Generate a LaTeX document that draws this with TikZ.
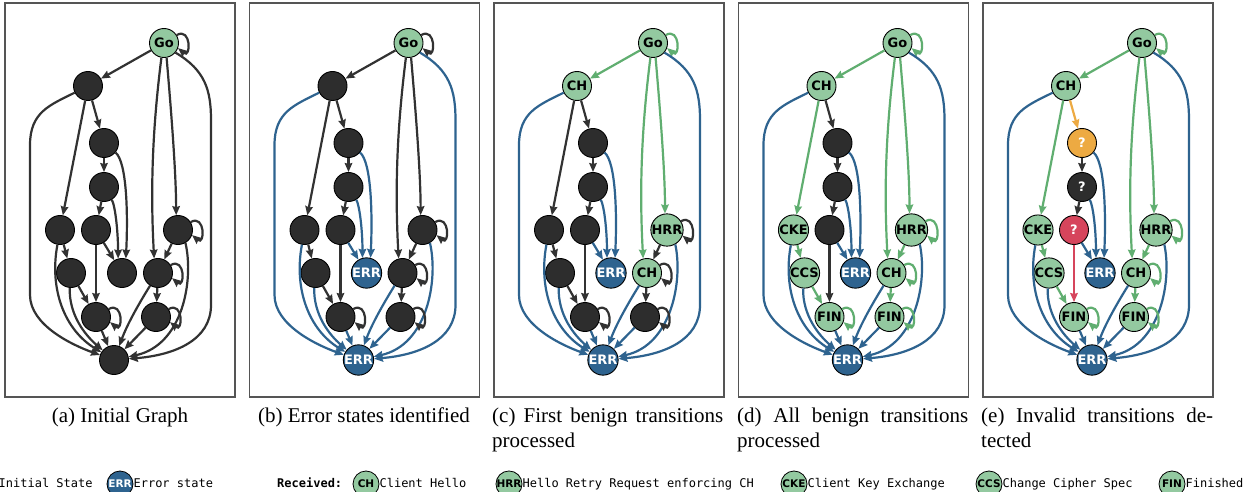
\documentclass[tikz,border=0pt]{standalone}
\usepackage{fontspec}
\setmainfont{Liberation Serif}
\newfontfamily\nodefont{DejaVu Sans}
\newfontfamily\monofont{DejaVu Sans Mono}
\usetikzlibrary{arrows.meta}

\definecolor{gfill}{RGB}{147,201,160}
\definecolor{gedge}{RGB}{96,174,112}
\definecolor{bfill}{RGB}{46,99,143}
\definecolor{dkfill}{RGB}{45,45,45}
\definecolor{dkedge}{RGB}{50,50,50}
\definecolor{ofill}{RGB}{237,170,66}
\definecolor{rfill}{RGB}{214,69,92}
\definecolor{framec}{RGB}{85,85,85}

\tikzset{
  fsmnode/.style={circle, draw=black, line width=0.9pt, minimum size=29pt, inner sep=0pt,
    font=\nodefont\bfseries\fontsize{13}{13}\selectfont},
  greennode/.style={fill=gfill, text=black},
  darknode/.style={fill=dkfill, text=white},
  errnode/.style={fill=bfill, text=white},
  orangenode/.style={fill=ofill, text=white},
  rednode/.style={fill=rfill, text=white},
  trans/.style={line width=2.2pt, -{Stealth[length=9pt,width=7.5pt,inset=1pt]}},
  dk/.style={draw=dkedge},
  gn/.style={draw=gedge},
  bl/.style={draw=bfill},
  og/.style={draw=ofill},
  rd/.style={draw=rfill},
  panelbox/.style={draw=framec, line width=1.2pt},
  captext/.style={font=\fontsize{21}{25}\selectfont, inner sep=0pt},
  legc/.style={fsmnode, minimum size=26pt, line width=0.8pt,
    font=\nodefont\bfseries\fontsize{10.5}{10.5}\selectfont},
  legt/.style={font=\monofont\fontsize{12}{14}\selectfont, inner sep=0pt},
}

% self-loop on the right-hand side of a state
\newcommand\selfloop[2]{\draw[trans,#2] (#1.32) .. controls +(30:17) and +(-40:17) .. (#1.-20);}

% one state machine: #1 left edge, #2 name prefix, #3 stage (1..5)
\newcommand\fsmpanel[3]{%
\begin{scope}[shift={(#1,0)}]
\ifnum#3>1
  \tikzset{toerr/.style={bl}, errst/.style={errnode}}\def\tErr{ERR}%
\else
  \tikzset{toerr/.style={dk}, errst/.style={darknode}}\def\tErr{}%
\fi
\ifnum#3>2
  \tikzset{gS/.style={gn}, stS/.style={greennode}}\def\tA{CH}\def\tH{HRR}%
\else
  \tikzset{gS/.style={dk}, stS/.style={darknode}}\def\tA{}\def\tH{}%
\fi
\ifnum#3>3
  \tikzset{gB/.style={gn}, stBen/.style={greennode}}\def\tD{CKE}\def\tF{CCS}\def\tI{FIN}%
\else
  \tikzset{gB/.style={dk}, stBen/.style={darknode}}\def\tD{}\def\tF{}\def\tI{}%
\fi
\ifnum#3>4
  \tikzset{gAB/.style={og}, gEI/.style={rd}, stOr/.style={orangenode}, stRed/.style={rednode}}\def\tQ{?}%
\else
  \tikzset{gAB/.style={dk}, gEI/.style={dk}, stOr/.style={darknode}, stRed/.style={darknode}}\def\tQ{}%
\fi
\draw[panelbox] (0,-3) rectangle (230,-397);
% states
\node[fsmnode, greennode] (#2Go) at (159,-43) {Go};
\node[fsmnode, stS]    (#2A) at (83,-86)   {\tA};
\node[fsmnode, stOr]   (#2B) at (99,-143)  {\tQ};
\node[fsmnode, darknode] (#2C) at (99,-187) {\tQ};
\node[fsmnode, stBen]  (#2D) at (55,-230)  {\tD};
\node[fsmnode, stRed]  (#2E) at (91,-230)  {\tQ};
\node[fsmnode, stS]    (#2H) at (173,-230) {\tH};
\node[fsmnode, stBen]  (#2F) at (66,-273)  {\tF};
\node[fsmnode, errst]  (#2X) at (117,-273) {\tErr};
\node[fsmnode, stS]    (#2G) at (153,-273) {\tA};
\node[fsmnode, stBen]  (#2I) at (91,-317)  {\tI};
\node[fsmnode, stBen]  (#2J) at (151,-317) {\tI};
\node[fsmnode, errst]  (#2Z) at (109,-360) {\tErr};
% transitions
\draw[trans,gS] (#2Go) -- (#2A);
\selfloop{#2Go}{gS}
\draw[trans,gS] (#2Go.-100) .. controls (146,-140) and (146,-200) .. (#2G.105);
\draw[trans,gS] (#2Go.-80) .. controls (167,-120) and (171,-175) .. (#2H.97);
\draw[trans,toerr] (#2Go.-40) .. controls (200,-70) and (206,-90) .. (206,-120) -- (206,-305)
   .. controls (206,-340) and (170,-355) .. (#2Z);
\draw[trans,gB] (#2A) -- (#2D);
\draw[trans,gAB] (#2A) -- (#2B);
\draw[trans,toerr] (#2A) .. controls (45,-105) and (25,-112) .. (25,-145) -- (25,-295)
   .. controls (25,-325) and (67,-345) .. (#2Z);
\draw[trans,dk] (#2B) -- (#2C);
\draw[trans,toerr] (#2B) .. controls (122,-162) and (123,-215) .. (#2X.75);
\draw[trans,dk] (#2C) -- (#2E);
\draw[trans,toerr] (#2C) .. controls (110,-205) and (113,-230) .. (#2X.105);
\draw[trans,gB] (#2D) -- (#2F);
\draw[trans,toerr] (#2D.-100) .. controls (44,-290) and (60,-330) .. (#2Z);
\draw[trans,toerr] (#2E) -- (#2X);
\draw[trans,gEI] (#2E) -- (#2I);
\draw[trans,gB] (#2F) -- (#2I);
\draw[trans,toerr] (#2F.-95) .. controls (64,-315) and (80,-335) .. (#2Z);
\draw[trans,gB] (#2H) -- (#2G);
\selfloop{#2H}{gB}
\draw[trans,toerr] (#2H.-60) .. controls (189,-280) and (178,-345) .. (#2Z);
\draw[trans,gB] (#2G) -- (#2J);
\selfloop{#2G}{gB}
\draw[trans,toerr] (#2G) .. controls (133,-305) and (122,-325) .. (#2Z);
\selfloop{#2I}{gB}
\draw[trans,toerr] (#2I) -- (#2Z);
\selfloop{#2J}{gB}
\draw[trans,toerr] (#2J) -- (#2Z);
\end{scope}}

\begin{document}
\begin{tikzpicture}[x=1pt, y=1pt]
\useasboundingbox (0,0) rectangle (1254,-492);
\fill[white] (0,0) rectangle (1254,-492);
\clip (0,0) rectangle (1254,-492);

\fsmpanel{5}{a}{1}
\fsmpanel{249.5}{b}{2}
\fsmpanel{494}{c}{3}
\fsmpanel{738.5}{d}{4}
\fsmpanel{983}{e}{5}

% sub-captions
\node[captext, anchor=base] (capa) at (120,-422) {(a) Initial Graph};
\node[captext, anchor=base] (capb) at (364,-422) {(b) Error states identified};
\node[captext, anchor=base west] (capc1) at (492,-422) {\makebox[231pt][s]{(c) First benign transitions}};
\node[captext, anchor=base west] (capc2) at (492,-447) {processed};
\node[captext, anchor=base west] (capd1) at (737,-422) {\makebox[231pt][s]{(d) All benign transitions}};
\node[captext, anchor=base west] (capd2) at (737,-447) {processed};
\node[captext, anchor=base west] (cape1) at (981,-422) {\makebox[232pt][s]{(e) Invalid transitions de-}};
\node[captext, anchor=base west] (cape2) at (981,-447) {tected};

% legend
\node[legt, anchor=base west] (linit) at (-1.5,-487) {Initial State};
\node[legc, errnode] (lerr) at (120,-484) {ERR};
\node[legt, anchor=base west] (lerrt) at ([yshift=-3pt]lerr.east) {Error state};
\node[legt, anchor=base west, font=\monofont\bfseries\fontsize{12}{14}\selectfont] (lrec) at (277,-487) {Received:};
\node[legc, greennode] (lch) at (366,-484) {CH};
\node[legt, anchor=base west] (lcht) at ([yshift=-3pt]lch.east) {Client Hello};
\node[legc, greennode] (lhrr) at (509,-484) {HRR};
\node[legt, anchor=base west] (lhrrt) at ([yshift=-3pt]lhrr.east) {Hello Retry Request enforcing CH};
\node[legc, greennode] (lcke) at (794,-484) {CKE};
\node[legt, anchor=base west] (lcket) at ([yshift=-3pt]lcke.east) {Client Key Exchange};
\node[legc, greennode] (lccs) at (989,-484) {CCS};
\node[legt, anchor=base west] (lccst) at ([yshift=-3pt]lccs.east) {Change Cipher Spec};
\node[legc, greennode] (lfin) at (1172,-484) {FIN};
\node[legt, anchor=base west] (lfint) at ([yshift=-3pt]lfin.east) {Finished};
\end{tikzpicture}
\end{document}
